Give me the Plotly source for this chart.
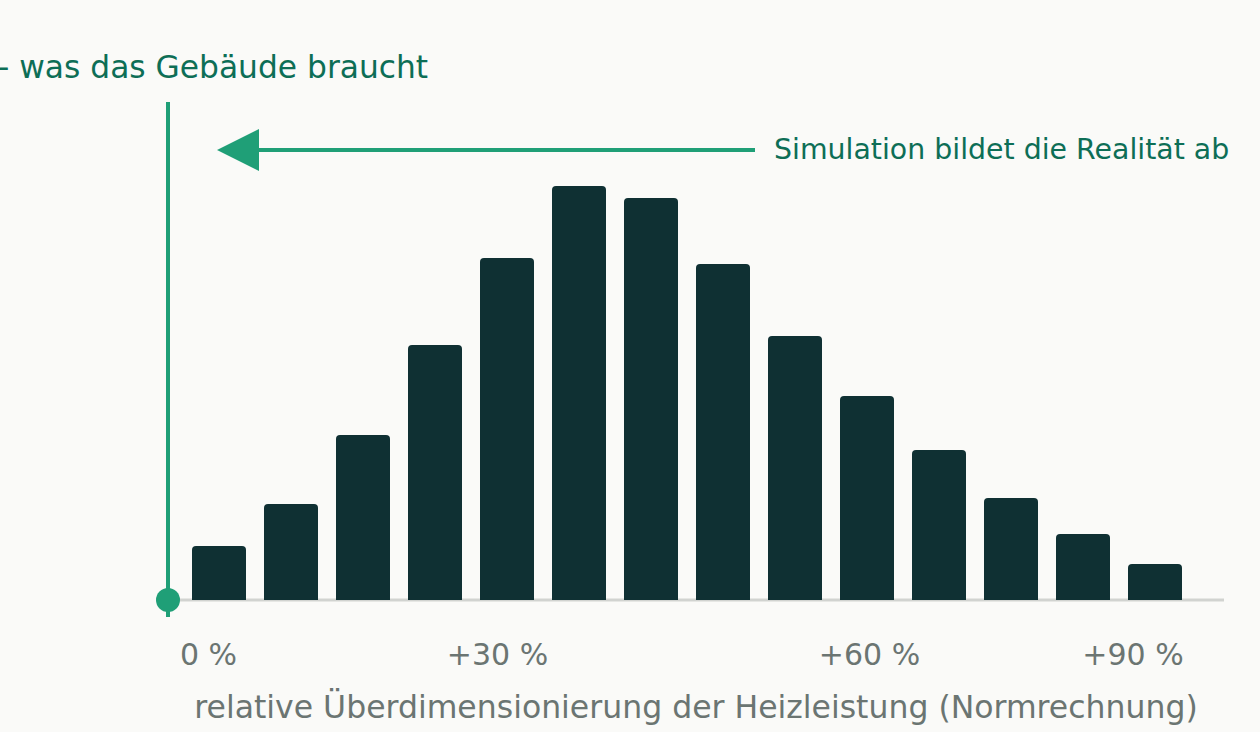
import plotly.graph_objects as go

# ---- data ----
bins = list(range(14))
counts = [9, 16, 27.5, 42.5, 57, 69, 67, 56, 44, 34, 25, 17, 11, 6]
tick_positions = [-0.146, 3.868, 9.035, 12.694]
tick_labels = ["0 %", "+30 %", "+60 %", "+90 %"]
x_title = "relative Überdimensionierung der Heizleistung (Normrechnung)"
label_top = "- was das Gebäude braucht"
label_arrow = "Simulation bildet die Realität ab"

# ---- style ----
W, H = 1260, 732
ML, MR, MT, MB = 168, 36, 102, 112
BG = "#fafaf8"
BAR = "#0f3033"
GREEN = "#1f9f77"
GREEN_TXT = "#0d6e56"
GRAY_TXT = "#6b7572"
BASE = "#d1d3d0"
FONT = "DejaVu Sans"

PW = W - ML - MR
PH = H - MT - MB


def px(xp):
    return (xp - ML) / PW


def py(yp):
    return (H - MB - yp) / PH


fig = go.Figure(
    go.Bar(
        x=bins,
        y=counts,
        width=0.75,
        marker=dict(color=BAR, line=dict(width=0), cornerradius=4),
        hoverinfo="skip",
    )
)

shapes = [
    # baseline
    dict(type="line", xref="paper", yref="y", x0=0, x1=1, y0=0, y1=0,
         line=dict(color=BASE, width=3), layer="below"),
    # vertical reference line
    dict(type="line", xref="paper", yref="paper", x0=0, x1=0, y0=py(617), y1=1,
         line=dict(color=GREEN, width=4), layer="above"),
    # dot
    dict(type="circle", xref="paper", yref="paper", xsizemode="pixel", ysizemode="pixel",
         xanchor=0, yanchor=py(600), x0=-12, x1=12, y0=-12, y1=12,
         fillcolor=GREEN, line=dict(width=0), layer="above"),
    # arrow shaft
    dict(type="line", xref="paper", yref="paper", x0=px(222), x1=px(755), y0=py(150), y1=py(150),
         line=dict(color=GREEN, width=4), layer="above"),
    # arrow head
    dict(type="path", xref="paper", yref="paper",
         path=f"M {px(217)} {py(150)} L {px(259)} {py(129)} L {px(259)} {py(171)} Z",
         fillcolor=GREEN, line=dict(width=0), layer="above"),
]

annotations = [
    dict(text=label_arrow, xref="paper", yref="paper", x=px(772), y=py(149),
         xanchor="left", yanchor="middle", showarrow=False,
         font=dict(family=FONT, size=28.4, color=GREEN_TXT)),
    dict(text=label_top, xref="paper", yref="paper", x=px(430), y=py(67),
         xanchor="right", yanchor="middle", showarrow=False,
         font=dict(family=FONT, size=31.3, color=GREEN_TXT)),
]

fig.update_layout(
    width=W, height=H,
    margin=dict(l=ML, r=MR, t=MT, b=MB, pad=0),
    paper_bgcolor=BG, plot_bgcolor=BG,
    showlegend=False,
    hovermode=False,
    shapes=shapes,
    annotations=annotations,
    font=dict(family=FONT),
    xaxis=dict(
        range=[-51 / 72, -51 / 72 + PW / 72],
        tickmode="array", tickvals=tick_positions, ticktext=tick_labels,
        tickfont=dict(family=FONT, size=30, color=GRAY_TXT),
        ticks="", showgrid=False, zeroline=False, showline=False,
        ticklabelstandoff=14,
        title=dict(text=x_title, font=dict(family=FONT, size=31.5, color=GRAY_TXT), standoff=24),
        automargin=False, fixedrange=True,
    ),
    yaxis=dict(
        range=[-20 / 6, (600 - MT) / 6],
        showticklabels=False, ticks="", showgrid=False, zeroline=False, showline=False,
        automargin=False, fixedrange=True,
    ),
)

fig.write_html("out.html", config={"displayModeBar": False})
